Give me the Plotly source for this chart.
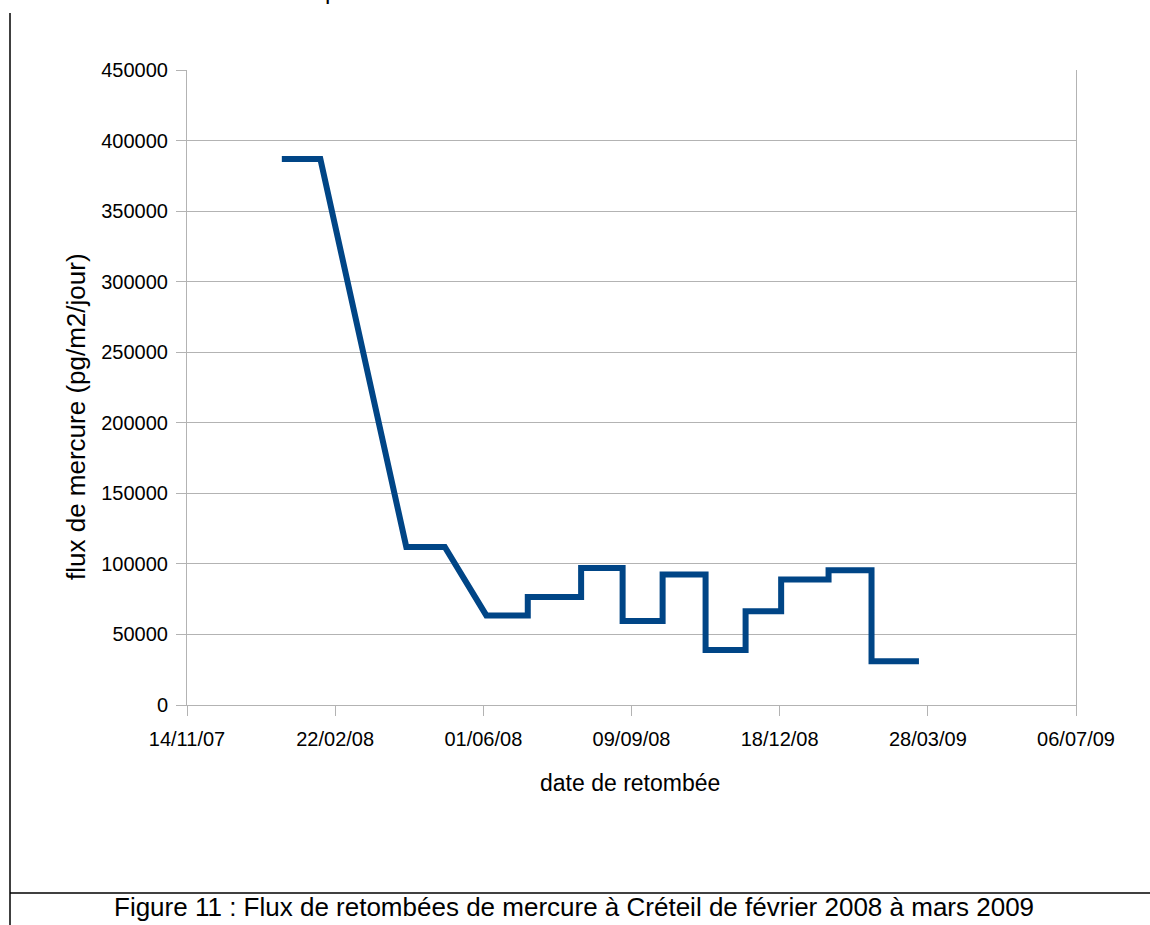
import plotly.graph_objects as go

# Sampling periods (start / end of each collection) and measured mercury flux
period_start = ["2008-01-17", "2008-04-10", "2008-06-03", "2008-07-01", "2008-08-06",
                "2008-09-03", "2008-09-30", "2008-10-29", "2008-11-25", "2008-12-19",
                "2009-01-20", "2009-02-18"]
period_end = ["2008-02-12", "2008-05-06", "2008-07-01", "2008-08-06", "2008-09-03",
              "2008-09-30", "2008-10-29", "2008-11-25", "2008-12-19", "2009-01-20",
              "2009-02-18", "2009-03-22"]
flux = [387000, 112000, 63500, 76500, 97000, 59500, 92500, 39000, 66500, 89000, 95500, 31000]

y_ticks = [0, 50000, 100000, 150000, 200000, 250000, 300000, 350000, 400000, 450000]

# Each period is drawn as a flat segment from its start date to its end date
xs, ys = [], []
for s, e, v in zip(period_start, period_end, flux):
    xs += [s, e]
    ys += [v, v]

FONT = "Liberation Sans, Arial, sans-serif"
GRID = "#b3b3b3"

fig = go.Figure()
fig.add_trace(go.Scatter(
    x=xs, y=ys, mode="lines",
    line=dict(color="#004586", width=6),
    hoverinfo="x+y", showlegend=False,
))

W, H = 1150, 925
L, R, T, B = 187, 1076, 70, 705


def px(x):
    return (x - L) / (R - L)


def py(y):
    return (B - y) / (B - T)


fig.update_layout(
    width=W, height=H,
    margin=dict(l=L, r=W - R, t=T, b=H - B, pad=0),
    paper_bgcolor="white", plot_bgcolor="white",
    font=dict(family=FONT, color="black"),
    xaxis=dict(
        type="date",
        range=["2007-11-14", "2009-07-06"],
        tick0="2007-11-14", dtick=100 * 86400000,
        tickformat="%d/%m/%y",
        showgrid=False, zeroline=False,
        showline=True, linecolor=GRID, linewidth=1,
        ticks="outside", ticklen=10, tickcolor=GRID, tickwidth=1,
        ticklabelstandoff=6,
        tickfont=dict(size=20, family=FONT, color="black"),
    ),
    yaxis=dict(
        range=[0, 450000],
        tickvals=y_ticks, ticktext=[str(v) for v in y_ticks],
        showgrid=True, gridcolor=GRID, gridwidth=1,
        zeroline=False,
        showline=True, linecolor=GRID, linewidth=1, mirror=True,
        ticks="outside", ticklen=10, tickcolor=GRID, tickwidth=1,
        ticklabelstandoff=4,
        tickfont=dict(size=20, family=FONT, color="black"),
    ),
    annotations=[
        dict(text="date de retombée", x=px(630), y=py(783), xref="paper", yref="paper",
             showarrow=False, xanchor="center", yanchor="middle",
             font=dict(size=23, family=FONT, color="black")),
        dict(text="flux de mercure (pg/m2/jour)", x=px(76), y=py(417), xref="paper", yref="paper",
             showarrow=False, xanchor="center", yanchor="middle", textangle=-90,
             font=dict(size=26, family=FONT, color="black")),
        dict(text="Figure 11 : Flux de retombées de mercure à Créteil de février 2008 à mars 2009",
             x=px(574), y=py(907), xref="paper", yref="paper",
             showarrow=False, xanchor="center", yanchor="middle",
             font=dict(size=26, family=FONT, color="black")),
        dict(text="p", x=px(331), y=py(6), xref="paper", yref="paper",
             showarrow=False, xanchor="center", yanchor="bottom",
             font=dict(size=24, family=FONT, color="black")),
    ],
    shapes=[
        dict(type="line", xref="paper", yref="paper",
             x0=px(10), x1=px(10), y0=py(13), y1=py(930),
             line=dict(color="black", width=1.5)),
        dict(type="line", xref="paper", yref="paper",
             x0=px(10), x1=px(1155), y0=py(893), y1=py(893),
             line=dict(color="black", width=1.5)),
    ],
)

fig.write_html("out.html")
